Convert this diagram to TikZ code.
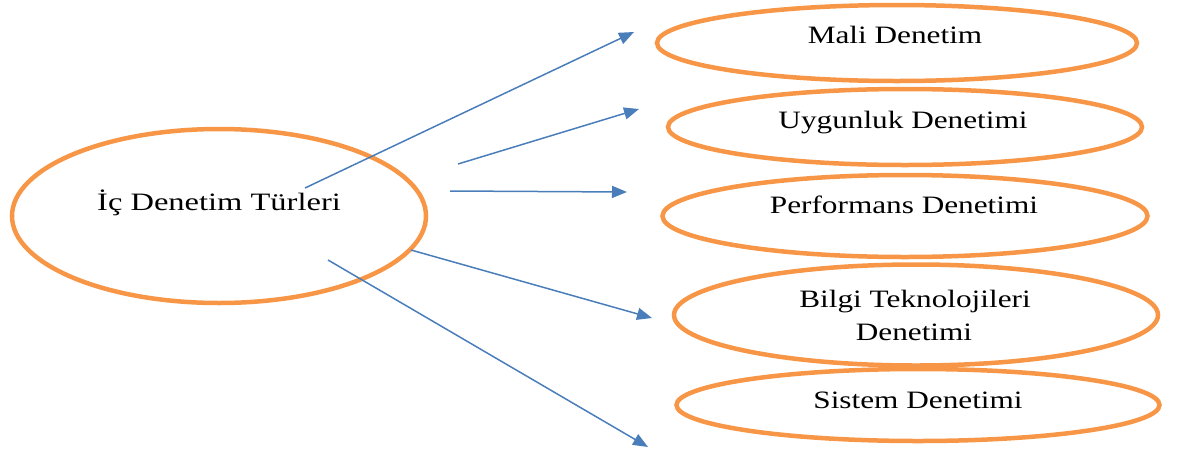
\documentclass[tikz,border=0pt]{standalone}
\usepackage{graphicx}
\usepackage{fontspec}
\setmainfont{Liberation Serif}
\usetikzlibrary{shapes.geometric,arrows.meta}
\definecolor{ovalorange}{HTML}{F79646}
\definecolor{arrowblue}{HTML}{4A7EBB}
\newcommand\widetext[1]{\scalebox{1.25}[1]{#1}}
\tikzset{
  oval/.style={ellipse, draw=ovalorange, line width=4.5pt, inner sep=0pt, outer sep=0pt},
  lbl/.style={anchor=base, inner sep=0pt, font=\fontsize{25}{33}\selectfont, text=black},
  link/.style={draw=arrowblue, line width=1.5pt, -{Triangle[length=15pt,width=12pt]}}
}
\begin{document}
\begin{tikzpicture}[x=1pt,y=-1pt]
\useasboundingbox (0,0) rectangle (1190,453);
% ovals
\node[oval, minimum width=414pt, minimum height=174pt] (main) at (219,216) {};
\node[oval, minimum width=480pt, minimum height=76pt] (mali) at (897,43) {};
\node[oval, minimum width=474pt, minimum height=76pt] (uyg) at (905,127) {};
\node[oval, minimum width=485pt, minimum height=82pt] (perf) at (905,216) {};
\node[oval, minimum width=484pt, minimum height=101pt] (bilgi) at (916,315) {};
\node[oval, minimum width=483pt, minimum height=72pt] (sis) at (918,405) {};
% labels
\node[lbl] (tmain) at (219,210) {\scalebox{1.3}[1]{İç Denetim Türleri}};
\node[lbl] (tmali) at (895,43) {\widetext{Mali Denetim}};
\node[lbl] (tuyg) at (903,128) {\widetext{Uygunluk Denetimi}};
\node[lbl] (tperf) at (904,213) {\widetext{Performans Denetimi}};
\node[lbl] (tbilgi1) at (915,307) {\widetext{Bilgi Teknolojileri}};
\node[lbl] (tbilgi2) at (914,340) {\widetext{Denetimi}};
\node[lbl] (tsis) at (918,408) {\widetext{Sistem Denetimi}};
% arrow ends
\coordinate (s1) at (305,188); \coordinate (e1) at (634,32);
\coordinate (s2) at (458,164); \coordinate (e2) at (639,109);
\coordinate (s3) at (450,191); \coordinate (e3) at (627,192);
\coordinate (s4) at (411,250); \coordinate (e4) at (652,318);
\coordinate (s5) at (328,260); \coordinate (e5) at (648,447);
\draw[link] (s1) -- (e1);
\draw[link] (s2) -- (e2);
\draw[link] (s3) -- (e3);
\draw[link] (s4) -- (e4);
\draw[link] (s5) -- (e5);
\end{tikzpicture}
\end{document}
